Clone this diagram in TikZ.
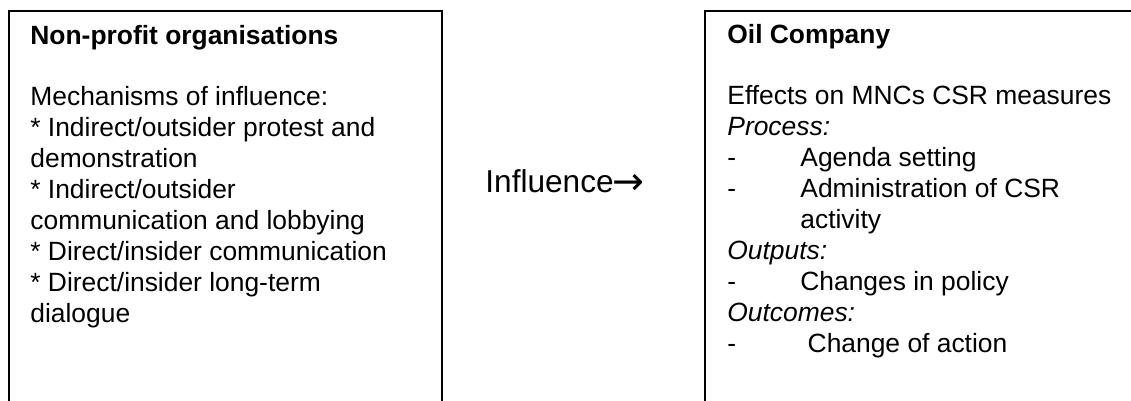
\documentclass[tikz,border=0pt]{standalone}
\usepackage{fontspec}
\setmainfont{Liberation Sans}
\newfontfamily\arrowfont{DejaVu Sans}
\usepackage{tikz}
\usetikzlibrary{positioning}

\newcommand{\oildash}[1]{\makebox[36.5pt][l]{-}#1}
\newcommand{\infarrow}{{\arrowfont\fontsize{19}{19}\selectfont\kern-0.5pt\raisebox{-1.2pt}{→}}}

\begin{document}
\begin{tikzpicture}[
  x=0.5pt, y=-0.5pt,
  frame/.style={draw=black, line width=1pt},
  headtext/.style={
    anchor=base west, inner sep=0pt,
    font=\fontsize{13.2}{15.5}\selectfont\bfseries,
  },
  boxtext/.style={
    anchor=base west, inner sep=0pt, align=left,
    font=\fontsize{13.2}{15.5}\selectfont,
  },
  inftext/.style={
    anchor=base west, inner sep=0pt,
    font=\fontsize{15.8}{18}\selectfont,
  },
]
\useasboundingbox (0,0) rectangle (1131,401);

% Left box: non-profits (base = last line)
\draw[frame] (9,401) -- (9,11) -- (442,11) -- (442,401);
\node[headtext] (ngohead) at (30,45) {Non-profit organisations};
\node[boxtext] (ngobody) at (30,322) {Mechanisms of influence:\\
* Indirect/outsider protest and\\
demonstration\\
* Indirect/outsider\\
communication and lobbying\\
* Direct/insider communication\\
* Direct/insider long-term\\
dialogue};

% Middle label
\node[inftext] (influence) at (485,192) {Influence\infarrow};

% Right box: oil company
\draw[frame] (705,401) -- (705,11) -- (1131,11);
\node[headtext] (oilhead) at (727,44) {Oil Company};
\node[boxtext] (oilbody) at (727,352) {Effects on MNCs CSR measures\\
\textit{Process:}\\
\oildash{Agenda setting}\\
\oildash{Administration of CSR}\\
\hspace*{36.5pt}activity\\
\textit{Outputs:}\\
\oildash{Changes in policy}\\
\textit{Outcomes:}\\
\oildash{\ Change of action}};

\end{tikzpicture}
\end{document}
